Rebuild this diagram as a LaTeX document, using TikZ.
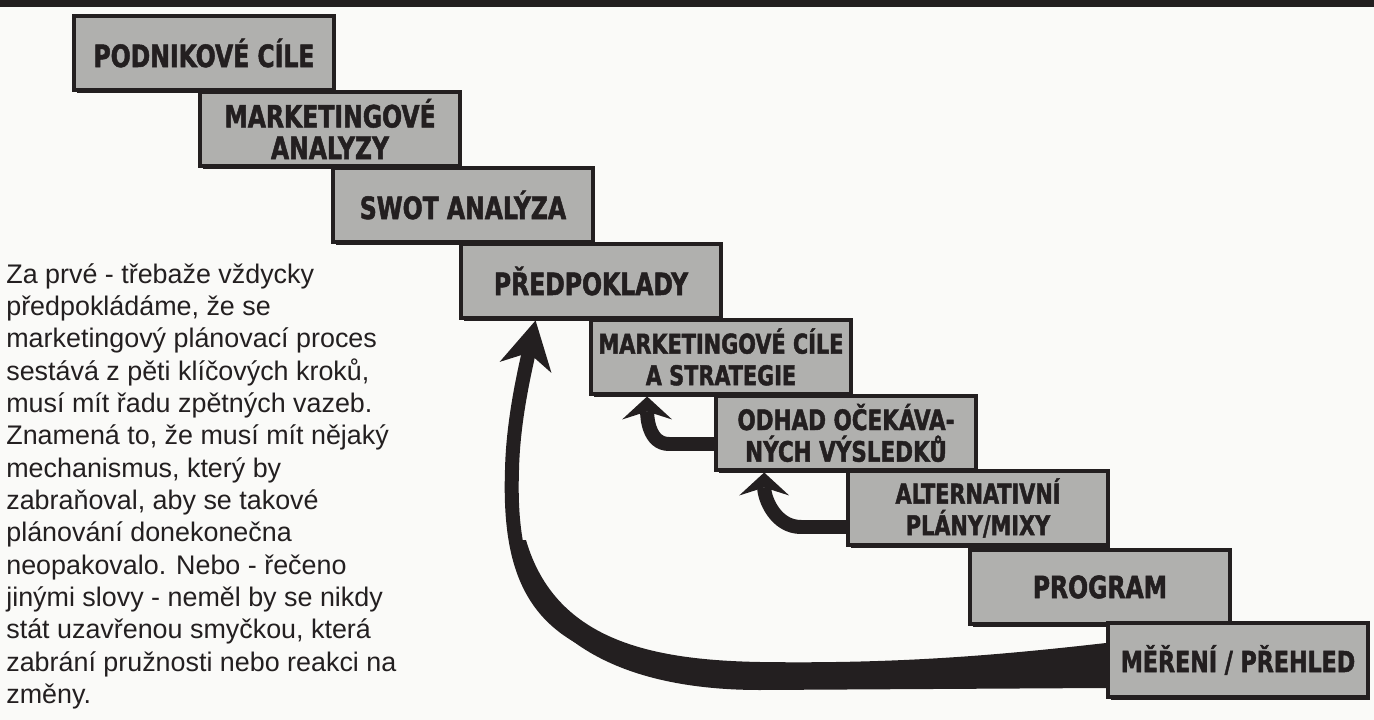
\documentclass[tikz,border=0pt]{standalone}
\usepackage{fontspec}
\setmainfont{Liberation Sans}
\newfontfamily\stepfont{DejaVu Sans Condensed}[FakeStretch=0.85,BoldFeatures={FakeBold=1.6}]
\usetikzlibrary{arrows.meta,calc,shadows}
\definecolor{ink}{RGB}{35,31,32}
\definecolor{raster}{RGB}{176,176,174}
\definecolor{paper}{RGB}{250,250,248}

\begin{document}
\begin{tikzpicture}[x=0.02cm,y=-0.02cm,
    stepbox/.style={draw=ink,line width=0.08cm,fill=raster,text=ink,
      minimum width=5.2cm,minimum height=1.5cm,inner sep=0pt,align=center,
      font=\stepfont\bfseries\fontsize{17.5}{18}\selectfont,
      drop shadow={shadow xshift=0.05cm,shadow yshift=-0.05cm,fill=ink,opacity=1}},
    fback/.style={draw=ink,line width=0.28cm,
      -{Stealth[length=0.46cm,width=1cm,inset=0.16cm,line width=0pt]}},
    loopback/.style={draw=ink,line width=0.28cm,
      -{Stealth[length=0.96cm,width=1.06cm,inset=0.3cm,line width=0pt]}}]
  \useasboundingbox (0,0) rectangle (1374,720);
  \fill[paper] (0,0) rectangle (1374,720);
  \fill[ink] (0,0) rectangle (1374,7);

  % the nine steps
  \node[stepbox] (podnik) at (204,53) {PODNIKOVÉ CÍLE};
  \node[stepbox] (analyzy) at (330,129) {MARKETINGOVÉ\\ANALYZY};
  \node[stepbox] (swot) at (463,205) {SWOT ANALÝZA};
  \node[stepbox] (predpoklady) at (591,281) {PŘEDPOKLADY};
  \node[stepbox,font=\stepfont\bfseries\fontsize{15.5}{18}\selectfont] (cile) at (721,357) {MARKETINGOVÉ CÍLE\\A STRATEGIE};
  \node[stepbox,font=\stepfont\bfseries\fontsize{16}{18}\selectfont] (odhad) at (846,433) {ODHAD OČEKÁVA-\\NÝCH VÝSLEDKŮ};
  \node[stepbox,font=\stepfont\bfseries\fontsize{15.5}{18}\selectfont] (alternativy) at (978,508) {ALTERNATIVNÍ\\PLÁNY/MIXY};
  \node[stepbox] (program) at (1100,587) {PROGRAM};
  \node[stepbox,font=\stepfont\bfseries\fontsize{16.5}{18}\selectfont] (mereni) at (1238,660) {MĚŘENÍ / PŘEHLED};

  % feedback
  \draw[fback] ([yshift=-0.22cm]odhad.west) -- ++(-45,0)
    to[out=180,in=-90] ($(cile.south west)!0.22!(cile.south east)$);
  \draw[fback] ([yshift=-0.38cm]alternativy.west) -- ++(-45,0)
    to[out=180,in=-90] ($(odhad.south west)!0.19!(odhad.south east)$);
  \draw[loopback] (mereni.west) .. controls (620,690) and (505,680) .. (512,470)
    .. controls (513,420) and (525,370) .. ($(predpoklady.south west)!0.29!(predpoklady.south east)$);
  \fill[ink] ([yshift=-0.56cm]mereni.west) -- (760,690)
    .. controls (620,690) and (530,640) .. (510,540) -- (526,540)
    .. controls (555,640) and (650,660) .. (760,662)
    .. controls (900,664) and (1000,655) .. ([yshift=0.34cm]mereni.west) -- cycle;

  \node[anchor=north west,inner sep=0pt,align=left,text=ink,
    font=\fontsize{15.3}{18.4}\selectfont] (note) at (6,263)
    {Za prvé - třebaže vždycky\\
     předpokládáme, že se\\
     marketingový plánovací proces\\
     sestává z pěti klíčových kroků,\\
     musí mít řadu zpětných vazeb.\\
     Znamená to, že musí mít nějaký\\
     mechanismus, který by\\
     zabraňoval, aby se takové\\
     plánování donekonečna\\
     neopakovalo. Nebo - řečeno\\
     jinými slovy - neměl by se nikdy\\
     stát uzavřenou smyčkou, která\\
     zabrání pružnosti nebo reakci na\\
     změny.};
\end{tikzpicture}
\end{document}
